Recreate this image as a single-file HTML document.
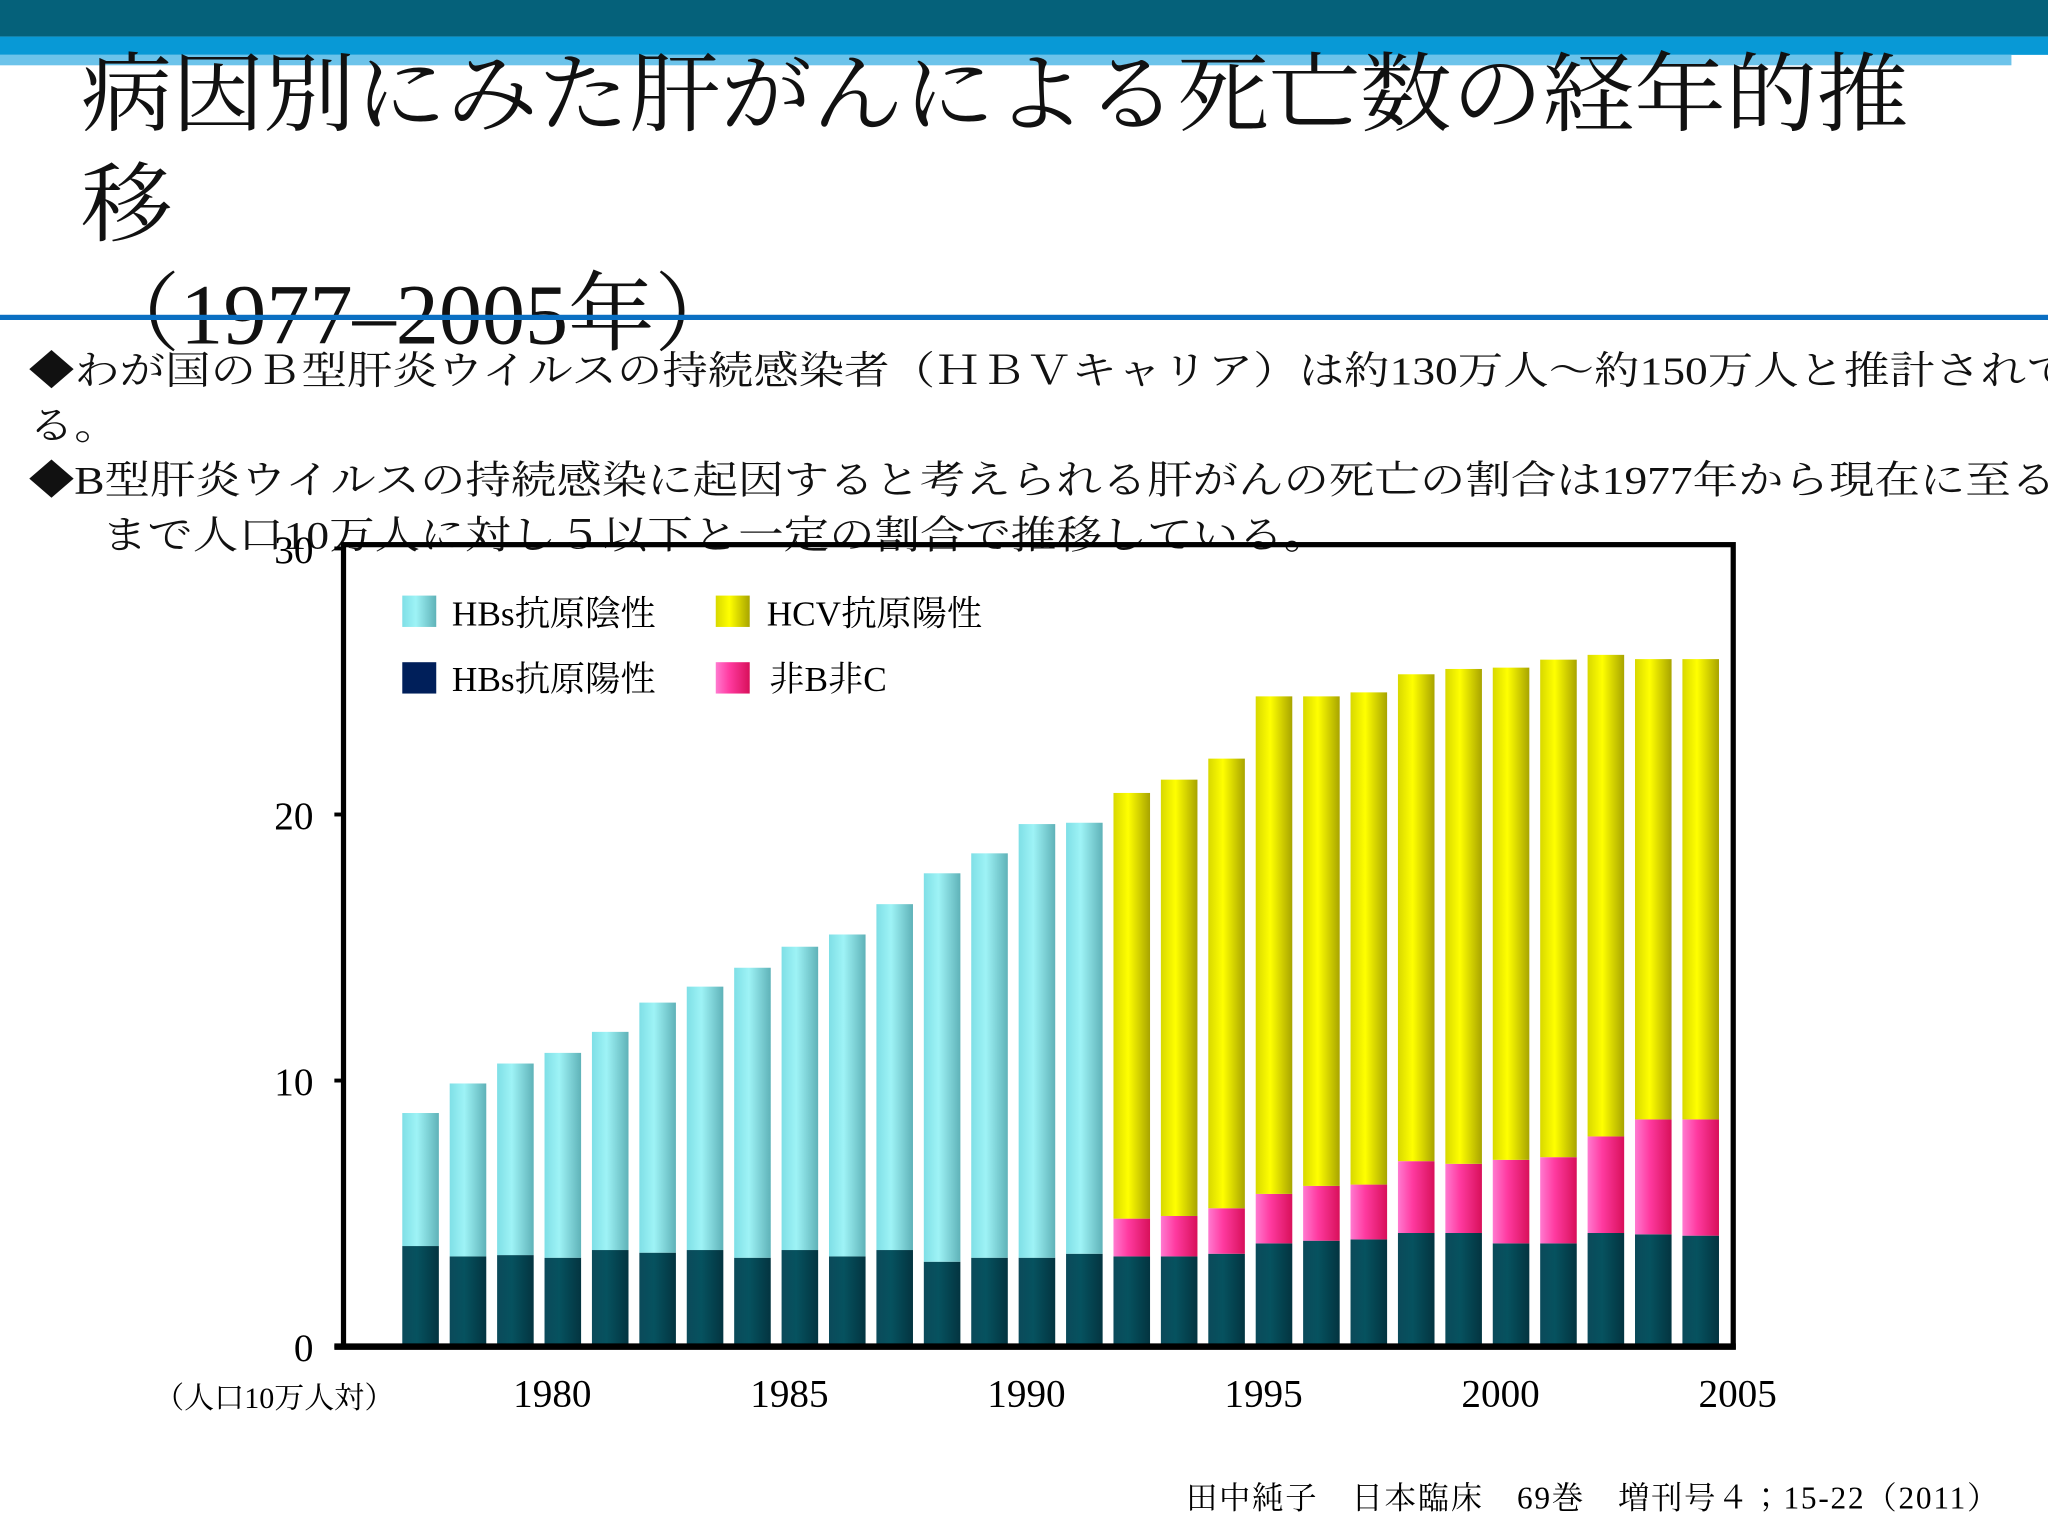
<!DOCTYPE html>
<html><head><meta charset="utf-8">
<style>
html,body{margin:0;padding:0;background:#fff;overflow:hidden}
#wrap{position:absolute;left:0;top:0;width:1568px;height:1176px;transform:scale(1.306122);transform-origin:0 0;font-family:"Liberation Serif","Noto Serif CJK JP",serif;color:#111}
.t{position:absolute;white-space:nowrap}
</style></head><body>
<div id="wrap">
<div style="position:absolute;left:0;top:0;width:1568px;height:28px;background:#05617a"></div>
<div style="position:absolute;left:0;top:28px;width:1568px;height:14px;background:#0899d6"></div>
<div style="position:absolute;left:0;top:42px;width:1540px;height:8px;background:#6cc3ea"></div>
<div class="t" style="left:62px;top:32px;font-size:66px;line-height:84px;transform:scaleX(1.06);transform-origin:0 0">病因別にみた肝がんによる死亡数の経年的推<br>移</div>
<div class="t" style="left:72px;top:200px;font-size:66px;line-height:84px">（1977–2005年）</div>
<div style="position:absolute;left:0;top:241px;width:1568px;height:4px;background:#0a6fc2"></div>
<div class="t" style="left:22px;top:264px;font-size:30px;line-height:42px;transform:scaleX(1.16);transform-origin:0 0">◆わが国のＢ型肝炎ウイルスの持続感染者（ＨＢＶキャリア）は約130万人〜約150万人と推計されて<br>る。</div>
<div class="t" style="left:22px;top:348px;font-size:30px;line-height:42px;transform:scaleX(1.16);transform-origin:0 0">◆B型肝炎ウイルスの持続感染に起因すると考えられる肝がんの死亡の割合は1977年から現在に至る</div>
<div class="t" style="left:78px;top:390px;font-size:30px;line-height:42px;transform:scaleX(1.16);transform-origin:0 0">まで人口10万人に対し５以下と一定の割合で推移している。</div>
<svg id="chart" width="1568" height="1176" style="position:absolute;left:0;top:0" font-family="Liberation Serif, Noto Serif CJK JP, serif">
<defs>
<linearGradient id="gc" x1="0" x2="1"><stop offset="0" stop-color="#7fdfe6"/><stop offset="0.4" stop-color="#9ef3f6"/><stop offset="1" stop-color="#5fb2b8"/></linearGradient>
<linearGradient id="gy" x1="0" x2="1"><stop offset="0" stop-color="#d8d800"/><stop offset="0.4" stop-color="#ffff00"/><stop offset="1" stop-color="#a8a400"/></linearGradient>
<linearGradient id="gp" x1="0" x2="1"><stop offset="0" stop-color="#ff7ad0"/><stop offset="0.4" stop-color="#ff3aa0"/><stop offset="1" stop-color="#d8105a"/></linearGradient>
<linearGradient id="gd" x1="0" x2="1"><stop offset="0" stop-color="#0b4a5a"/><stop offset="0.4" stop-color="#06525f"/><stop offset="1" stop-color="#033440"/></linearGradient>
</defs>
<g id="bars"></g>
<rect x="263" y="417" width="1064" height="614" fill="none" stroke="#000" stroke-width="4"/>
<line x1="256" x2="1329" y1="1031" y2="1031" stroke="#000" stroke-width="5"/>
<g id="axes"></g>
<g font-size="27">
<rect x="308" y="456" width="26" height="24" fill="url(#gc)"/><text x="346" y="479">HBs抗原陰性</text>
<rect x="548" y="456" width="26" height="24" fill="url(#gy)"/><text x="587" y="479">HCV抗原陽性</text>
<rect x="308" y="507" width="26" height="24" fill="#001f5a"/><text x="346" y="529">HBs抗原陽性</text>
<rect x="548" y="507" width="26" height="24" fill="url(#gp)"/><text x="589" y="529">非B非C</text>
</g>
<text x="118" y="1078" font-size="23">（人口10万人対）</text>
<text x="908" y="1155" font-size="24" textLength="622">田中純子　日本臨床　69巻　増刊号４；15-22（2011）</text>
</svg>
</div>
<script>
const years=[1977,1978,1979,1980,1981,1982,1983,1984,1985,1986,1987,1988,1989,1990,1991,1992,1993,1994,1995,1996,1997,1998,1999,2000,2001,2002,2003,2004];
const hbsPos=[3.78,3.39,3.44,3.34,3.63,3.53,3.63,3.34,3.63,3.39,3.63,3.19,3.34,3.34,3.49,3.39,3.39,3.49,3.88,3.98,4.03,4.27,4.27,3.88,3.88,4.27,4.22,4.17];
const hbsNeg=[5.0,6.5,7.2,7.7,8.2,9.4,9.9,10.9,11.4,12.1,13.0,14.6,15.2,16.3,16.2,0,0,0,0,0,0,0,0,0,0,0,0,0];
const nonBC=[0,0,0,0,0,0,0,0,0,0,0,0,0,0,0,1.42,1.52,1.71,1.86,2.06,2.06,2.7,2.6,3.14,3.24,3.63,4.32,4.37];
const hcv=[0,0,0,0,0,0,0,0,0,0,0,0,0,0,0,16.0,16.4,16.9,18.7,18.4,18.5,18.3,18.6,18.5,18.7,18.1,17.3,17.3];
const yTicks=[0,10,20,30];
const xTickYears=[1980,1985,1990,1995,2000,2005];
const NS='http://www.w3.org/2000/svg';
const y=v=>1031-v*20.37;
const x=yr=>322+(yr-1977)*36.3;
const bw=28;
const bars=document.getElementById('bars');
function rect(px,v0,v1,fill,name){
  if(v1<=v0)return;
  const r=document.createElementNS(NS,'rect');
  r.setAttribute('x',px-bw/2);r.setAttribute('y',y(v1));
  r.setAttribute('width',bw);r.setAttribute('height',y(v0)-y(v1));
  r.setAttribute('fill',fill);
  
  
  bars.appendChild(r);
}
years.forEach((yr,i)=>{
  const px=x(yr);let c=0;
  rect(px,c,c+hbsPos[i],'url(#gd)','bar-hbs-positive-'+yr);c+=hbsPos[i];
  rect(px,c,c+hbsNeg[i],'url(#gc)','bar-hbs-negative-'+yr);c+=hbsNeg[i];
  rect(px,c,c+nonBC[i],'url(#gp)','bar-non-b-non-c-'+yr);c+=nonBC[i];
  rect(px,c,c+hcv[i],'url(#gy)','bar-hcv-'+yr);
});
const axes=document.getElementById('axes');
yTicks.forEach(v=>{
  const l=document.createElementNS(NS,'line');
  l.setAttribute('x1',256);l.setAttribute('x2',263);l.setAttribute('y1',y(v));l.setAttribute('y2',y(v));
  l.setAttribute('stroke','#000');l.setAttribute('stroke-width',3);
  
  
  axes.appendChild(l);
  const t=document.createElementNS(NS,'text');
  t.setAttribute('x',240);t.setAttribute('y',y(v)+11);t.setAttribute('text-anchor','end');t.setAttribute('font-size',30);
  t.textContent=v;
  
  
  axes.appendChild(t);
});
xTickYears.forEach(yr=>{
  const t=document.createElementNS(NS,'text');
  t.setAttribute('x',x(yr)-8);t.setAttribute('y',1077);t.setAttribute('text-anchor','middle');t.setAttribute('font-size',30);
  t.textContent=yr;
  
  
  axes.appendChild(t);
});
</script>
</body></html>
